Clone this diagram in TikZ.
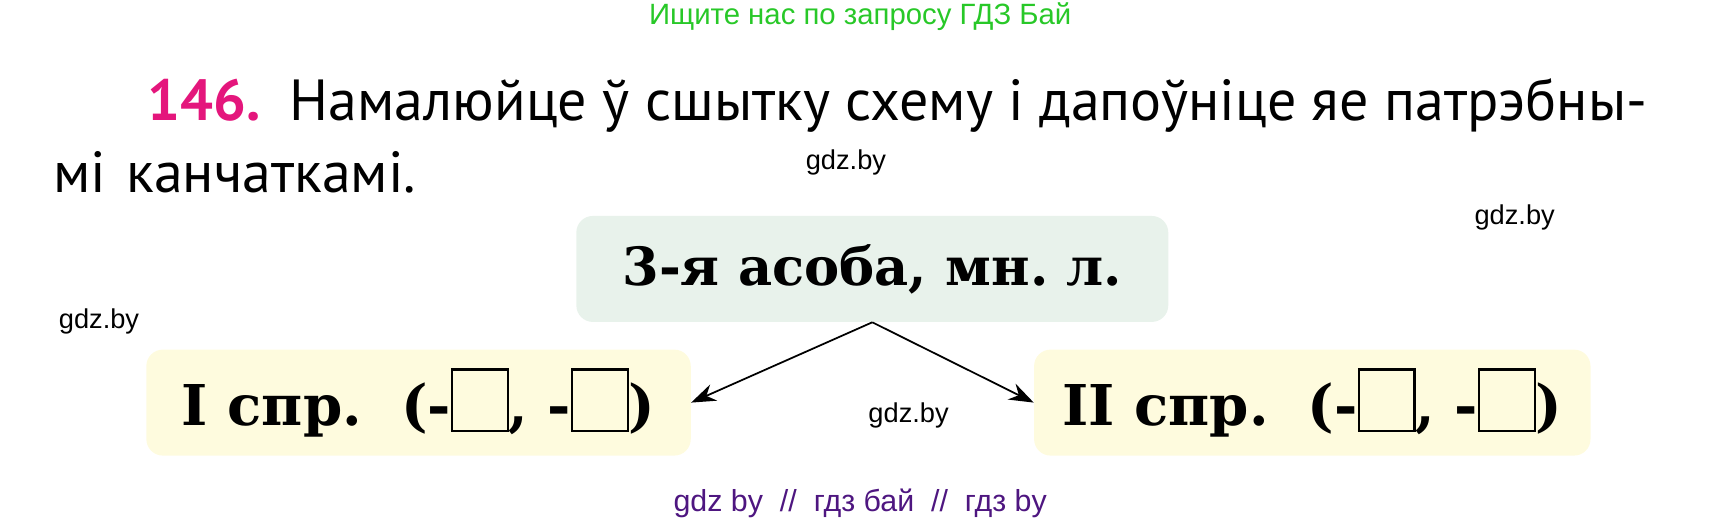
\documentclass[tikz,border=0pt]{standalone}
\usepackage{fontspec}
\setmainfont{PT Sans}
\newfontfamily\schemefont{DejaVu Serif}
\newfontfamily\markfont{Liberation Sans}
\usetikzlibrary{arrows.meta}
\frenchspacing
\definecolor{numpink}{RGB}{228,22,124}
\definecolor{topgreen}{RGB}{40,200,40}
\definecolor{markpurple}{RGB}{78,22,128}
\definecolor{greenbox}{RGB}{232,242,235}
\definecolor{yellowbox}{RGB}{254,251,222}
\newcommand{\blankbox}{{\setlength{\fboxsep}{0pt}\setlength{\fboxrule}{1.2pt}\raisebox{-0.08em}{\fbox{\rule{0pt}{1.05em}\hspace{0.95em}}}}}
\tikzset{
  schemebox/.style={rounded corners=0.33cm, inner sep=0pt, minimum height=2.12cm, font=\schemefont\bfseries},
  gdzmark/.style={font=\markfont\fontsize{15.5}{18}\selectfont},
  link/.style={-{Stealth[length=14pt,width=10pt]}, line width=1pt}
}
\begin{document}
\begin{tikzpicture}[x=0.022cm,y=-0.022cm]
\useasboundingbox (0,0) rectangle (1560,474);
\node[font=\markfont\fontsize{16.7}{19}\selectfont, text=topgreen] (search) at (782,15) {Ищите нас по запросу ГДЗ Бай};

\node[anchor=base west, inner sep=0pt, font=\fontsize{33}{38}\selectfont] (task1) at (134,110) {{\bfseries\color{numpink}146.}\hspace{0.5em}Намалюйце ў сшытку схему і дапоўніце яе патрэбны-};
\node[anchor=base west, inner sep=0pt, font=\fontsize{33}{38}\selectfont] (task2) at (48,175) {мі\hspace{0.35em}канчаткамі.};

\node[schemebox, fill=greenbox, minimum width=11.84cm, font=\schemefont\bfseries\fontsize{30}{34}\selectfont] (person) at (793,244.5) {3-я асоба, мн. л.};
\node[schemebox, fill=yellowbox, minimum width=10.89cm, font=\schemefont\bfseries\fontsize{32}{36}\selectfont] (conjI) at (380.5,366) {I спр.\ \ (-\blankbox, -\blankbox)};
\node[schemebox, fill=yellowbox, minimum width=11.13cm, font=\schemefont\bfseries\fontsize{32}{36}\selectfont] (conjII) at (1193,366) {II спр.\ \ (-\blankbox, -\blankbox)};

\draw[link] (person.south) -- (conjI.east);
\draw[link] (person.south) -- (conjII.west);

\node[gdzmark] (mark1) at (769,148) {gdz.by};
\node[gdzmark] (mark2) at (1377,198) {gdz.by};
\node[gdzmark] (mark3) at (90,292) {gdz.by};
\node[gdzmark] (mark4) at (826,378) {gdz.by};
\node[font=\markfont\fontsize{17.3}{20}\selectfont, text=markpurple] (footer) at (782,458) {gdz by\ \ //\ \ гдз бай\ \ //\ \ гдз by};
\end{tikzpicture}
\end{document}
